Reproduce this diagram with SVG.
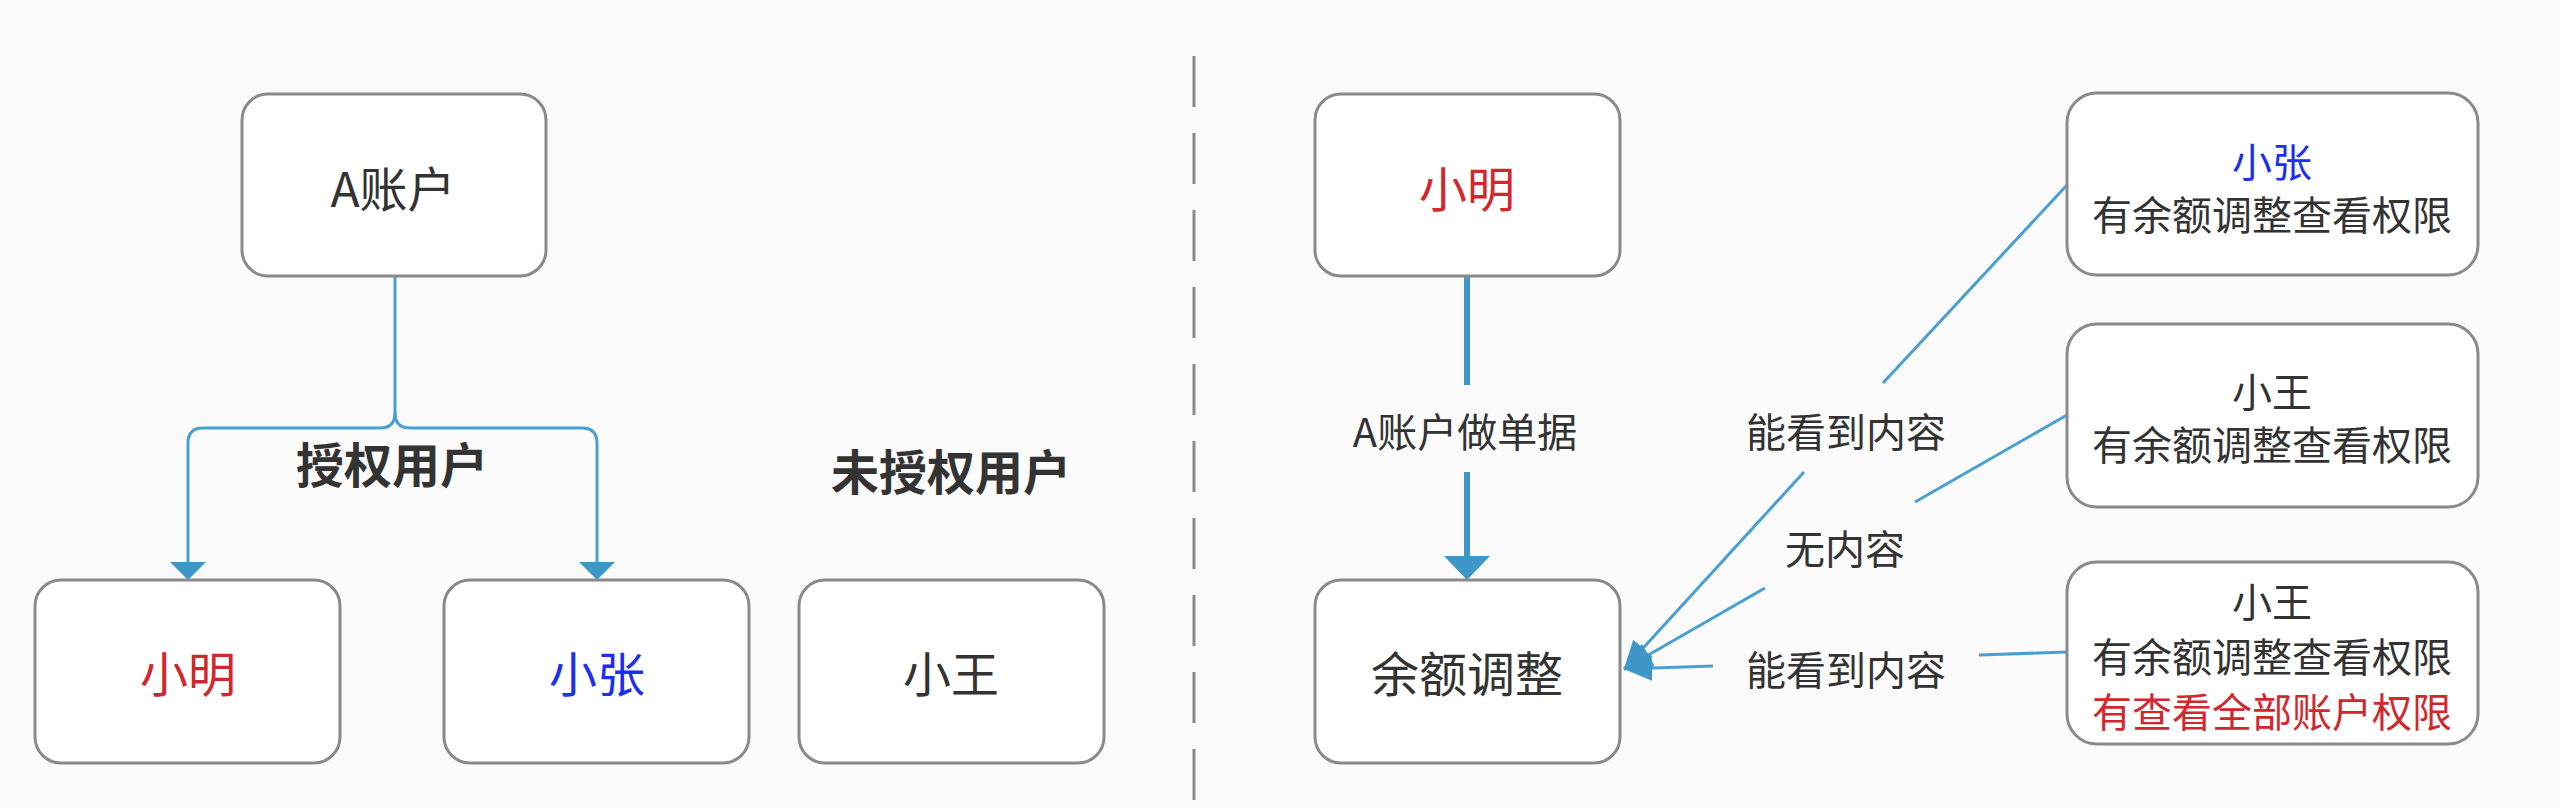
<svg xmlns="http://www.w3.org/2000/svg" width="2560" height="808" viewBox="0 0 2560 808">
<defs>
<style>
.box{fill:#ffffff;stroke:#8a8a8a;stroke-width:3}
.t{font-family:"Noto Sans CJK SC","Noto Sans",sans-serif;fill:#333333;text-anchor:middle;dominant-baseline:central}
.big{font-size:48px}
.mid{font-size:40px}
.bold{font-weight:bold}
.red{fill:#d0282c}
.blue{fill:#1c2ef0}
.ln{fill:none;stroke:#4a9fd1;stroke-width:3}
.thick{fill:none;stroke:#3f97c9;stroke-width:6}
.sep{stroke:#8a8a8a;stroke-width:3;stroke-dasharray:51 26}
</style>
<marker id="ah" markerUnits="userSpaceOnUse" markerWidth="30" markerHeight="30" viewBox="0 0 30 30" refX="28" refY="15" orient="auto">
<path d="M0,2 L28,15 L0,28 Z" fill="#3f97c9"/>
</marker>
</defs>
<rect x="0" y="0" width="2560" height="808" fill="#fbfbfb"/>

<line class="sep" x1="1194" y1="56" x2="1194" y2="805"/>

<g id="connectors">
<path class="ln" d="M395 276 V413 Q395 428 380 428 H203 Q188 428 188 443 V562"/>
<path class="ln" d="M395 413 Q395 428 410 428 H582 Q597 428 597 443 V562"/>
<polygon points="170,562 206,562 188,580" fill="#3f97c9"/>
<polygon points="579,562 615,562 597,580" fill="#3f97c9"/>

<line class="thick" x1="1467" y1="276" x2="1467" y2="385"/>
<line class="thick" x1="1467" y1="472" x2="1467" y2="556"/>
<polygon points="1444,556 1490,556 1467,580" fill="#3f97c9"/>

<line class="ln" x1="2067" y1="185" x2="1883" y2="383"/>
<line class="ln" x1="1804" y1="472" x2="1624" y2="669" marker-end="url(#ah)"/>
<line class="ln" x1="2067" y1="415" x2="1915" y2="502"/>
<line class="ln" x1="1765" y1="588" x2="1624" y2="669" marker-end="url(#ah)"/>
<line class="ln" x1="2067" y1="652" x2="1979" y2="655"/>
<line class="ln" x1="1713" y1="666" x2="1624" y2="669" marker-end="url(#ah)"/>

<text class="t bold big" x="392" y="462">授权用户</text>
<text class="t mid" x="1465" y="430">A账户做单据</text>
<text class="t mid" x="1846" y="430">能看到内容</text>
<text class="t mid" x="1845" y="547">无内容</text>
<text class="t mid" x="1846" y="668">能看到内容</text>
</g>

<text class="t bold big" x="951" y="469">未授权用户</text>

<g id="node-a-account">
<rect class="box" x="242" y="94" width="304" height="182" rx="26"/>
<text class="t big" x="393" y="186">A账户</text>
</g>
<g id="node-xiaoming-left">
<rect class="box" x="35" y="580" width="305" height="183" rx="26"/>
<text class="t big red" x="188" y="671">小明</text>
</g>
<g id="node-xiaozhang-left">
<rect class="box" x="444" y="580" width="305" height="183" rx="26"/>
<text class="t big blue" x="597" y="671">小张</text>
</g>
<g id="node-xiaowang-left">
<rect class="box" x="799" y="580" width="305" height="183" rx="26"/>
<text class="t big" x="951" y="671">小王</text>
</g>

<g id="node-xiaoming-right">
<rect class="box" x="1315" y="94" width="305" height="182" rx="26"/>
<text class="t big red" x="1467" y="186">小明</text>
</g>
<g id="node-balance">
<rect class="box" x="1315" y="580" width="305" height="183" rx="26"/>
<text class="t big" x="1467" y="671">余额调整</text>
</g>
<g id="node-right-1">
<rect class="box" x="2067" y="93" width="411" height="182" rx="30"/>
<text class="t mid blue" x="2272" y="160">小张</text>
<text class="t mid" x="2272" y="213">有余额调整查看权限</text>
</g>
<g id="node-right-2">
<rect class="box" x="2067" y="324" width="411" height="183" rx="30"/>
<text class="t mid" x="2272" y="390">小王</text>
<text class="t mid" x="2272" y="443">有余额调整查看权限</text>
</g>
<g id="node-right-3">
<rect class="box" x="2067" y="562" width="411" height="182" rx="30"/>
<text class="t mid" x="2272" y="600">小王</text>
<text class="t mid" x="2272" y="655">有余额调整查看权限</text>
<text class="t mid red" x="2272" y="710">有查看全部账户权限</text>
</g>
</svg>
